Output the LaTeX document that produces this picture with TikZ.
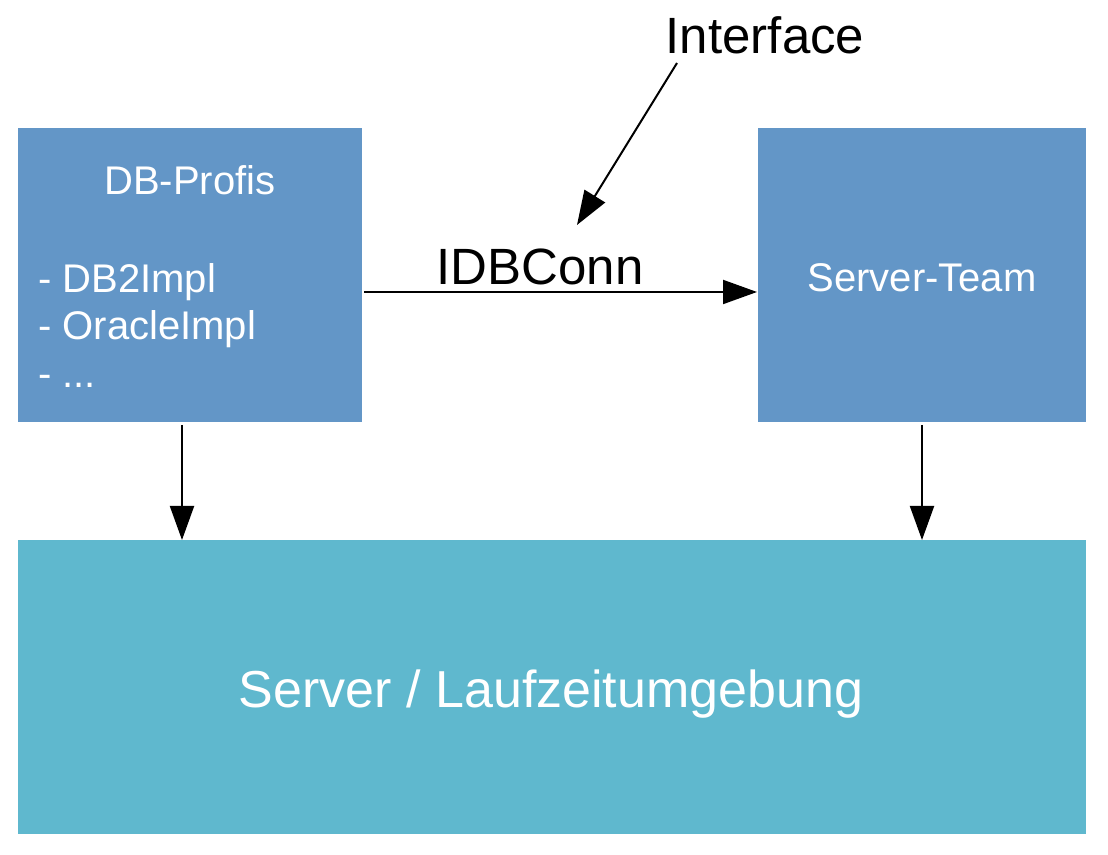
\documentclass[tikz,border=0pt]{standalone}
\usepackage{fontspec}
\setmainfont{Liberation Sans}
\usetikzlibrary{arrows.meta}
\definecolor{boxblue}{RGB}{99,150,199}
\definecolor{boxcyan}{RGB}{95,184,206}
\tikzset{
  blockbox/.style={fill=#1, draw=none, inner sep=0pt, outer sep=0pt},
  conn/.style={line width=2pt, -{Triangle[length=34pt,width=24pt]}},
  whitetxt/.style={text=white, inner sep=0pt, font=\fontsize{40}{47}\selectfont},
  blacktxt/.style={text=black, inner sep=0pt, font=\fontsize{51}{60}\selectfont},
}
\begin{document}
\begin{tikzpicture}[x=1pt,y=1pt]
\useasboundingbox (0,0) rectangle (1108,854);
\node[blockbox=boxblue, minimum width=344pt, minimum height=294pt] (db) at (190,579) {};
\node[blockbox=boxblue, minimum width=328pt, minimum height=294pt] (st) at (922,579) {};
\node[blockbox=boxcyan, minimum width=1068pt, minimum height=294pt] (srv) at (552,167) {};
\node[whitetxt, anchor=base] (dbt) at (190,659) {DB-Profis};
\node[whitetxt, anchor=base west] (l1) at (38,561) {- DB2Impl};
\node[whitetxt, anchor=base west] (l2) at (38,514) {- OracleImpl};
\node[whitetxt, anchor=base west] (l3) at (38,466) {- ...};
\node[whitetxt, anchor=base] (stt) at (922,562) {Server-Team};
\node[whitetxt, anchor=base, font=\fontsize{52}{60}\selectfont] (srvt) at (551,146) {Server / Laufzeitumgebung};
\node[blacktxt, anchor=base] (idb) at (540,569) {IDBConn};
\node[blacktxt, anchor=base] (itf) at (765,800) {Interface};
\coordinate (itfs) at (677,791);
\coordinate (itfe) at (577,629);
\draw[conn] ([yshift=-17pt,xshift=2pt]db.east) -- ([yshift=-17pt,xshift=-1pt]st.west);
\draw[conn] (itfs) -- (itfe);
\draw[conn] ([xshift=-8pt,yshift=-3pt]db.south) -- ([xshift=-8pt]db.south |- srv.north);
\draw[conn] ([yshift=-3pt]st.south) -- (st.south |- srv.north);
\end{tikzpicture}
\end{document}
